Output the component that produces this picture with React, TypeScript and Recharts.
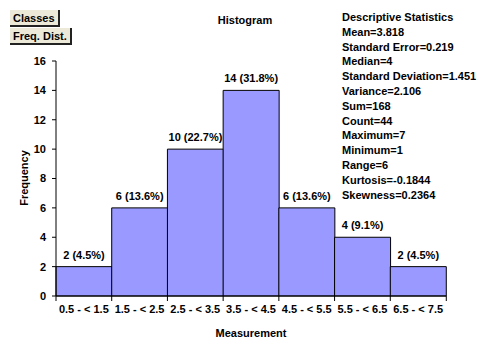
import { BarChart, Bar, XAxis, YAxis, LabelList, Rectangle } from 'recharts';

const classes = ['0.5 - < 1.5', '1.5 - < 2.5', '2.5 - < 3.5', '3.5 - < 4.5', '4.5 - < 5.5', '5.5 - < 6.5', '6.5 - < 7.5'];
const frequencies = [2, 6, 10, 14, 6, 4, 2];
const yTicks = [0, 2, 4, 6, 8, 10, 12, 14, 16];
const stats = [
  'Mean=3.818',
  'Standard Error=0.219',
  'Median=4',
  'Standard Deviation=1.451',
  'Variance=2.106',
  'Sum=168',
  'Count=44',
  'Maximum=7',
  'Minimum=1',
  'Range=6',
  'Kurtosis=-0.1844',
  'Skewness=0.2364',
];

const total = frequencies.reduce((a, b) => a + b, 0);
const data = classes.map((c, i) => ({
  range: c,
  count: frequencies[i],
  label: `${frequencies[i]} (${((frequencies[i] / total) * 100).toFixed(1)}%)`,
}));

const font = '"Liberation Sans", Arial, sans-serif';
const ink = '#000';

const buttonStyle: React.CSSProperties = {
  position: 'absolute',
  left: 10,
  height: 17,
  background: '#ECE9D8',
  borderRight: '2px solid #222',
  borderBottom: '2px solid #222',
  fontFamily: font,
  fontWeight: 'bold',
  fontSize: 11,
  lineHeight: '17px',
  paddingLeft: 3,
  boxSizing: 'border-box',
  color: ink,
};

// bar with the class-boundary tick marks under the axis
const HistBar = (props: any) => {
  const { x, y, width, height, index } = props;
  const base = y + height;
  return (
    <g>
      <Rectangle {...props} />
      <line x1={x} x2={x} y1={base} y2={base + 5} stroke={ink} />
      {index === data.length - 1 && <line x1={x + width} x2={x + width} y1={base} y2={base + 5} stroke={ink} />}
    </g>
  );
};

const BarLabel = (props: any) => {
  const { x, y, width, value } = props;
  return (
    <text
      x={x + width / 2}
      y={y - 8}
      textAnchor="middle"
      fill={ink}
      fontSize={11}
      fontWeight="bold"
      fontFamily={font}
    >
      {value}
    </text>
  );
};

export default function App() {
  return (
    <div style={{ position: 'absolute', left: 0, top: 0, width: 487, height: 357, background: '#fff', fontFamily: font }}>
      <BarChart
        width={487}
        height={357}
        data={data}
        margin={{ top: 61, right: 41, left: 0, bottom: 21 }}
        barCategoryGap={0}
        barGap={0}
      >
        <XAxis
          dataKey="range"
          axisLine={{ stroke: ink }}
          tickLine={false}
          tickSize={6}
          tickMargin={3}
          height={40}
          interval={0}
          tick={{ fill: ink, fontSize: 11, fontWeight: 'bold', fontFamily: font }}
        />
        <YAxis
          domain={[0, 16]}
          ticks={yTicks}
          width={56}
          axisLine={{ stroke: ink }}
          tickLine={{ stroke: ink }}
          tickSize={4}
          tickMargin={6}
          tick={{ fill: ink, fontSize: 11, fontWeight: 'bold', fontFamily: font }}
        />
        <Bar dataKey="count" fill="#9999FF" stroke={ink} strokeWidth={1} shape={HistBar} isAnimationActive={false}>
          <LabelList dataKey="label" content={BarLabel} />
        </Bar>
      </BarChart>

      <div style={{ position: 'absolute', left: 0, top: 14, width: 490, textAlign: 'center', fontSize: 11, fontWeight: 'bold', color: ink }}>
        Histogram
      </div>
      <div style={{ position: 'absolute', left: 56, width: 390, top: 327, textAlign: 'center', fontSize: 11, fontWeight: 'bold', color: ink }}>
        Measurement
      </div>
      <div
        style={{
          position: 'absolute',
          left: 24,
          top: 178,
          transform: 'translate(-50%, -50%) rotate(-90deg)',
          fontSize: 11,
          fontWeight: 'bold',
          color: ink,
          whiteSpace: 'nowrap',
        }}
      >
        Frequency
      </div>

      <div style={{ ...buttonStyle, top: 10, width: 50 }}>Classes</div>
      <div style={{ ...buttonStyle, top: 28, width: 62 }}>Freq. Dist.</div>

      <div style={{ position: 'absolute', left: 342, top: 10, fontSize: 11, fontWeight: 'bold', color: ink, lineHeight: '14.8px' }}>
        <div>Descriptive Statistics</div>
        {stats.map((s) => (
          <div key={s}>{s}</div>
        ))}
      </div>
    </div>
  );
}
